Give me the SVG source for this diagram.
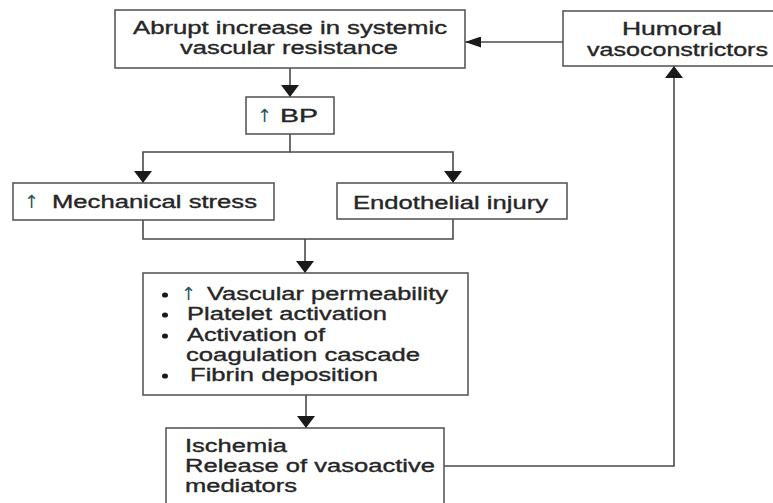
<svg xmlns="http://www.w3.org/2000/svg" width="773" height="503" viewBox="0 0 773 503">
<style>
.box{fill:#fff;stroke:#595959;stroke-width:1.6}
.t{font-family:"Liberation Sans",Arial,sans-serif;font-size:17.5px;fill:#262626;stroke:#262626;stroke-width:0.35}
.up{font-family:"DejaVu Sans",sans-serif;font-size:18px;fill:#2a5560;stroke:none}
.dot{fill:#1a1a1a}
.c{fill:none;stroke:#4a4a4a;stroke-width:1.6}
.v{marker-end:url(#av)}
.h{marker-end:url(#ah)}
</style>
<defs>
<marker id="av" markerUnits="userSpaceOnUse" orient="auto" markerWidth="12" markerHeight="18" refX="12" refY="9" viewBox="0 0 12 18"><path d="M0,0 L12,9 L0,18 z" fill="#1a1a1a"/></marker>
<marker id="ah" markerUnits="userSpaceOnUse" orient="auto" markerWidth="16" markerHeight="11" refX="16" refY="5.5" viewBox="0 0 16 11"><path d="M0,0 L16,5.5 L0,11 z" fill="#1a1a1a"/></marker>
</defs>
<rect width="773" height="503" fill="#fff"/>
<g id="connectors">
<path class="c v" d="M290,68 V97"/>
<path class="c v" d="M290,134 V152 H143 V183"/>
<path class="c v" d="M290,152 H453 V183"/>
<path class="c" d="M143,220 V239 H453 V219"/>
<path class="c v" d="M305,239 V273"/>
<path class="c v" d="M306,395 V428"/>
<path class="c v" d="M444,466 H674 V66"/>
<path class="c h" d="M563,42 H465"/>
</g>
<g id="node-svr">
<rect class="box" x="115" y="10" width="350" height="58"/>
<text class="t" x="133" y="34" textLength="314" lengthAdjust="spacingAndGlyphs">Abrupt increase in systemic</text>
<text class="t" x="180" y="54" textLength="218" lengthAdjust="spacingAndGlyphs">vascular resistance</text>
</g>
<g id="node-humoral">
<rect class="box" x="563" y="11" width="214" height="55"/>
<text class="t" x="622" y="35" textLength="100" lengthAdjust="spacingAndGlyphs">Humoral</text>
<text class="t" x="587" y="56" textLength="181" lengthAdjust="spacingAndGlyphs">vasoconstrictors</text>
</g>
<g id="node-bp">
<rect class="box" x="246" y="97" width="88" height="37"/>
<text class="t" x="257" y="122"><tspan class="up">↑</tspan><tspan x="280" textLength="38" lengthAdjust="spacingAndGlyphs">BP</tspan></text>
</g>
<g id="node-mech">
<rect class="box" x="13" y="183" width="261" height="37"/>
<text class="t" x="24" y="208"><tspan class="up">↑</tspan><tspan x="52" textLength="205" lengthAdjust="spacingAndGlyphs">Mechanical stress</tspan></text>
</g>
<g id="node-effects">
<rect class="box" x="143" y="273" width="325" height="122"/>
<ellipse class="dot" cx="165" cy="295" rx="3" ry="2.6"/>
<ellipse class="dot" cx="165" cy="315" rx="3" ry="2.6"/>
<ellipse class="dot" cx="165" cy="336" rx="3" ry="2.6"/>
<ellipse class="dot" cx="165" cy="376" rx="3" ry="2.6"/>
<text class="t" x="181" y="300"><tspan class="up">↑</tspan><tspan x="207" textLength="241" lengthAdjust="spacingAndGlyphs">Vascular permeability</tspan></text>
<text class="t" x="187" y="320" textLength="200" lengthAdjust="spacingAndGlyphs">Platelet activation</text>
<text class="t" x="187" y="341" textLength="138" lengthAdjust="spacingAndGlyphs">Activation of</text>
<text class="t" x="186" y="361" textLength="234" lengthAdjust="spacingAndGlyphs">coagulation cascade</text>
<text class="t" x="190" y="381" textLength="188" lengthAdjust="spacingAndGlyphs">Fibrin deposition</text>
</g>
<g id="node-endo">
<rect class="box" x="337" y="183" width="230" height="36"/>
<text class="t" x="353" y="209" textLength="195" lengthAdjust="spacingAndGlyphs">Endothelial injury</text>
</g>
<g id="node-ischemia">
<rect class="box" x="166" y="428" width="278" height="85"/>
<text class="t" x="185" y="452" textLength="102" lengthAdjust="spacingAndGlyphs">Ischemia</text>
<text class="t" x="185" y="472" textLength="250" lengthAdjust="spacingAndGlyphs">Release of vasoactive</text>
<text class="t" x="185" y="492" textLength="112" lengthAdjust="spacingAndGlyphs">mediators</text>
</g>
</svg>
